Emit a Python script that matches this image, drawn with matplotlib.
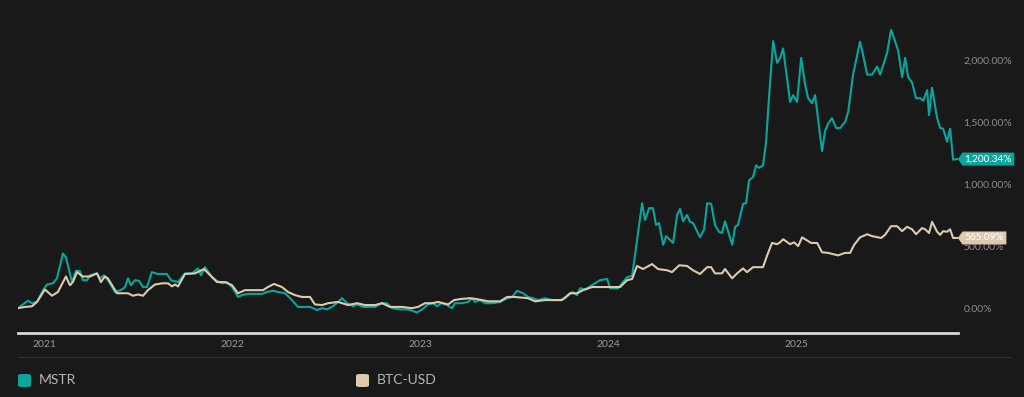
import matplotlib.pyplot as plt
from matplotlib.patches import FancyBboxPatch
from matplotlib.lines import Line2D
from matplotlib.path import Path

plt.rcParams['font.family'] = ['Lato', 'DejaVu Sans']

# cumulative return (%), x in decimal years
mstr_t = [2020.862, 2020.915, 2020.936, 2020.963, 2020.995, 2021.016, 2021.048, 2021.069, 2021.101, 2021.117,
          2021.138, 2021.149, 2021.170, 2021.191, 2021.207, 2021.229, 2021.245, 2021.282, 2021.298, 2021.319,
          2021.340, 2021.378, 2021.415, 2021.431, 2021.447, 2021.463, 2021.484, 2021.505, 2021.527, 2021.548,
          2021.574, 2021.606, 2021.654, 2021.676, 2021.713, 2021.750, 2021.787, 2021.819, 2021.835, 2021.856,
          2021.894, 2021.920, 2021.947, 2021.973, 2022.000, 2022.032, 2022.053, 2022.085, 2022.122, 2022.160,
          2022.186, 2022.218, 2022.245, 2022.282, 2022.319, 2022.351, 2022.388, 2022.415, 2022.452, 2022.479,
          2022.505, 2022.537, 2022.564, 2022.585, 2022.612, 2022.644, 2022.665, 2022.697, 2022.734, 2022.761,
          2022.798, 2022.824, 2022.851, 2022.894, 2022.931, 2022.957, 2022.984, 2023.011, 2023.043, 2023.069,
          2023.090, 2023.112, 2023.144, 2023.170, 2023.186, 2023.223, 2023.255, 2023.277, 2023.293, 2023.319,
          2023.346, 2023.388, 2023.426, 2023.463, 2023.489, 2023.516, 2023.548, 2023.574, 2023.601, 2023.628,
          2023.665, 2023.702, 2023.745, 2023.771, 2023.809, 2023.835, 2023.851, 2023.878, 2023.915, 2023.931,
          2023.957, 2023.995, 2024.011, 2024.053, 2024.080, 2024.101, 2024.128, 2024.181, 2024.197, 2024.218,
          2024.239, 2024.255, 2024.271, 2024.293, 2024.309, 2024.346, 2024.367, 2024.383, 2024.399, 2024.420,
          2024.436, 2024.452, 2024.489, 2024.511, 2024.527, 2024.548, 2024.569, 2024.590, 2024.606, 2024.622,
          2024.660, 2024.676, 2024.691, 2024.718, 2024.734, 2024.750, 2024.771, 2024.787, 2024.803, 2024.824,
          2024.840, 2024.856, 2024.878, 2024.899, 2024.915, 2024.931, 2024.968, 2024.984, 2025.005, 2025.027,
          2025.048, 2025.064, 2025.085, 2025.101, 2025.138, 2025.154, 2025.170, 2025.191, 2025.213, 2025.234,
          2025.261, 2025.277, 2025.303, 2025.340, 2025.356, 2025.378, 2025.404, 2025.431, 2025.447, 2025.484,
          2025.505, 2025.521, 2025.543, 2025.564, 2025.580, 2025.596, 2025.617, 2025.638, 2025.660, 2025.676,
          2025.697, 2025.707, 2025.723, 2025.750, 2025.766, 2025.782, 2025.803, 2025.819, 2025.835, 2025.856]
mstr_pct = [0, 60, 40, 50, 145, 190, 200, 240, 440, 410,
            280, 210, 300, 300, 225, 225, 265, 280, 240, 265,
            225, 130, 150, 170, 240, 185, 225, 220, 170, 170,
            290, 275, 275, 225, 210, 280, 280, 320, 265, 330,
            250, 220, 200, 210, 170, 90, 105, 115, 115, 115,
            130, 140, 130, 120, 65, 10, 10, 10, -15, 0,
            -10, 15, 50, 80, 40, 15, 30, 10, 10, 10,
            40, 40, 0, -10, -10, -20, -35, -10, 30, 40,
            15, 40, 25, 0, 40, 40, 50, 80, 50, 65,
            40, 40, 50, 80, 90, 140, 120, 90, 80, 65,
            80, 65, 65, 80, 130, 105, 160, 150, 185, 200,
            225, 235, 160, 160, 210, 250, 260, 845, 710, 805,
            805, 670, 685, 510, 580, 525, 750, 800, 700, 750,
            695, 685, 570, 635, 845, 840, 670, 615, 605, 700,
            510, 655, 670, 840, 845, 1030, 1055, 1150, 1130, 1150,
            1330, 1700, 2150, 1975, 2015, 2090, 1660, 1715, 1660, 2015,
            1800, 1690, 1650, 1715, 1265, 1425, 1485, 1530, 1450, 1450,
            1500, 1580, 1880, 2145, 2040, 1880, 1880, 1945, 1880, 2055,
            2240, 2175, 2070, 1860, 2015, 1860, 1815, 1690, 1690, 1670,
            1755, 1555, 1775, 1530, 1450, 1445, 1340, 1445, 1195, 1200.34]

btc_t = [2020.862, 2020.899, 2020.936, 2020.963, 2021.005, 2021.043, 2021.074, 2021.117, 2021.138, 2021.154,
         2021.176, 2021.207, 2021.245, 2021.282, 2021.303, 2021.324, 2021.340, 2021.388, 2021.447, 2021.473,
         2021.500, 2021.527, 2021.553, 2021.590, 2021.628, 2021.660, 2021.681, 2021.697, 2021.713, 2021.750,
         2021.803, 2021.851, 2021.894, 2021.920, 2021.963, 2022.000, 2022.032, 2022.069, 2022.122, 2022.165,
         2022.191, 2022.223, 2022.266, 2022.298, 2022.335, 2022.372, 2022.415, 2022.441, 2022.479, 2022.511,
         2022.564, 2022.617, 2022.665, 2022.707, 2022.761, 2022.798, 2022.840, 2022.904, 2022.957, 2022.989,
         2023.027, 2023.064, 2023.096, 2023.149, 2023.181, 2023.223, 2023.266, 2023.293, 2023.330, 2023.362,
         2023.426, 2023.463, 2023.505, 2023.574, 2023.612, 2023.665, 2023.718, 2023.755, 2023.798, 2023.835,
         2023.867, 2023.915, 2023.947, 2023.984, 2024.011, 2024.064, 2024.101, 2024.128, 2024.154, 2024.186,
         2024.234, 2024.266, 2024.314, 2024.340, 2024.378, 2024.420, 2024.452, 2024.489, 2024.527, 2024.548,
         2024.569, 2024.606, 2024.622, 2024.660, 2024.686, 2024.718, 2024.739, 2024.771, 2024.824, 2024.846,
         2024.872, 2024.899, 2024.915, 2024.931, 2024.968, 2024.989, 2025.011, 2025.032, 2025.080, 2025.112,
         2025.138, 2025.170, 2025.223, 2025.261, 2025.287, 2025.309, 2025.340, 2025.378, 2025.404, 2025.452,
         2025.473, 2025.505, 2025.537, 2025.564, 2025.590, 2025.617, 2025.638, 2025.670, 2025.686, 2025.707,
         2025.723, 2025.750, 2025.766, 2025.782, 2025.803, 2025.819, 2025.835, 2025.856]
btc_pct = [0, 10, 15, 50, 150, 100, 130, 255, 185, 210,
           290, 255, 255, 280, 210, 255, 240, 120, 120, 100,
           110, 100, 145, 190, 200, 200, 175, 190, 175, 275,
           280, 315, 250, 210, 210, 185, 120, 145, 145, 145,
           170, 195, 170, 130, 105, 90, 90, 30, 25, 40,
           50, 25, 40, 25, 25, 40, 10, 10, 0, 10,
           40, 40, 50, 30, 65, 75, 80, 75, 65, 55,
           55, 90, 90, 80, 55, 65, 65, 65, 120, 120,
           145, 170, 170, 170, 170, 170, 225, 235, 340, 315,
           355, 315, 305, 290, 345, 340, 305, 275, 330, 330,
           280, 280, 315, 240, 280, 320, 290, 330, 330, 425,
           525, 515, 530, 555, 515, 530, 500, 570, 525, 525,
           450, 445, 425, 445, 445, 510, 570, 595, 580, 565,
           590, 660, 660, 620, 655, 635, 595, 645, 635, 605,
           695, 615, 590, 620, 615, 635, 565, 565.09]

series_names = ['MSTR', 'BTC-USD']
series_colors = ['#0aa69d', '#dccaae']
year_ticks = [2021, 2022, 2023, 2024, 2025]
y_ticks = [0, 500, 1000, 1500, 2000]


def tag_box(x0, y0, width, height, mutation_size):
    # box with a pointed left side, padded around the text
    px, py = 0.22 * mutation_size, 0.2 * mutation_size
    x0, y0 = x0 - px, y0 - py
    width, height = width + 2 * px, height + 2 * py
    tip = height * 0.36
    verts = [(x0, y0), (x0 + width, y0), (x0 + width, y0 + height), (x0, y0 + height),
             (x0 - tip, y0 + height / 2), (x0, y0)]
    return Path(verts, closed=True)


bg = '#191919'
fig = plt.figure(figsize=(10.24, 3.97), dpi=100, facecolor=bg)
ax = fig.add_axes([18 / 1024, 64 / 397, 940 / 1024, 313 / 397])
ax.set_facecolor(bg)

ax.plot(mstr_t, mstr_pct, color=series_colors[0], lw=1.5, solid_joinstyle='round')
ax.plot(btc_t, btc_pct, color=series_colors[1], lw=1.5, solid_joinstyle='round')

ax.set_xlim(mstr_t[0], mstr_t[-1] + 0.005)
ax.set_ylim(-200, 2320)

for s in ['top', 'left', 'right']:
    ax.spines[s].set_visible(False)
ax.spines['bottom'].set_color('#d8d8d8')
ax.spines['bottom'].set_linewidth(2)

ax.set_xticks(year_ticks)
ax.set_xticklabels([str(y) for y in year_ticks])
ax.yaxis.tick_right()
ax.set_yticks(y_ticks)
ax.set_yticklabels(['{:,.2f}%'.format(v) for v in y_ticks])
ax.tick_params(axis='x', length=0, pad=5, labelsize=7.5, labelcolor='#9a9a9a')
ax.tick_params(axis='y', length=0, pad=4, labelsize=7.5, labelcolor='#8c8c8c')

# end-value tags
for t, v, c in [(mstr_t[-1], mstr_pct[-1], series_colors[0]), (btc_t[-1], btc_pct[-1], series_colors[1])]:
    ax.annotate('{:,.2f}%'.format(v), xy=(t, v), xytext=(5.5, 0), textcoords='offset points',
                ha='left', va='center', fontsize=7.2, color='white', zorder=5, annotation_clip=False,
                bbox=dict(boxstyle=tag_box, fc=c, ec='none'))

# separator under the axis
fig.add_artist(Line2D([18 / 1024, 1010 / 1024], [40 / 397, 40 / 397], color='#333333', lw=0.8))

# legend
for i, (name, c) in enumerate(zip(series_names, series_colors)):
    x0 = [18, 356][i]
    fig.add_artist(FancyBboxPatch((x0 / 1024, 10 / 397), 13 / 1024, 13 / 397,
                                  boxstyle='round,pad=0,rounding_size=0.004', fc=c, ec='none',
                                  transform=fig.transFigure))
    fig.text((x0 + 21) / 1024, 16.5 / 397, name, ha='left', va='center', fontsize=10, color='#b5b5b5')

fig.savefig('out.png', dpi=100, facecolor=bg)
